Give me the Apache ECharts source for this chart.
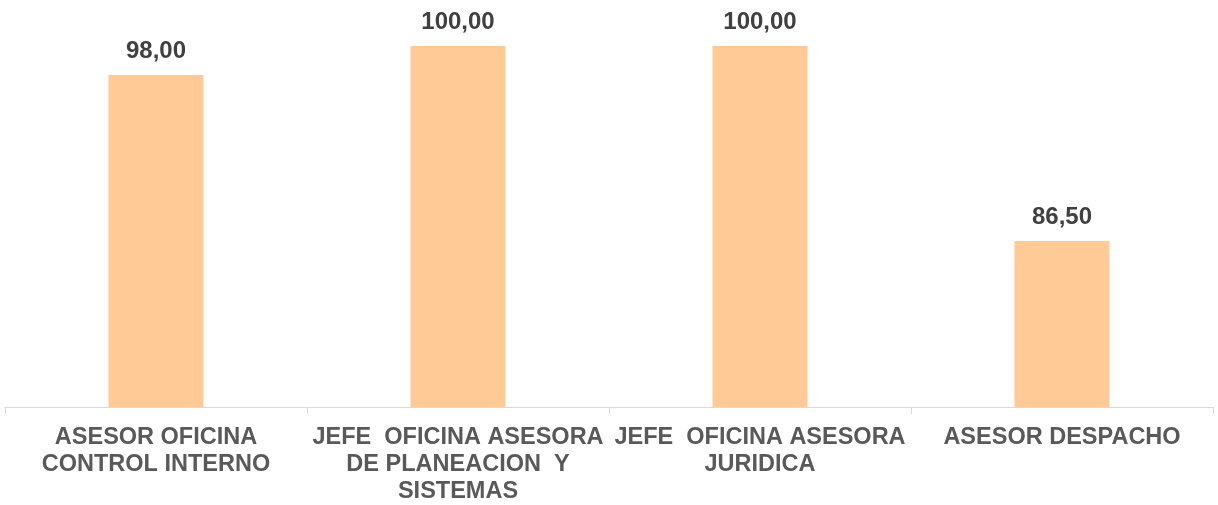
<!DOCTYPE html>
<html>
<head>
<meta charset="utf-8">
<script src="https://cdn.jsdelivr.net/npm/echarts@6/dist/echarts.min.js"></script>
<style>
html,body{margin:0;padding:0;background:#fff;}
#chart{width:1218px;height:505px;}
</style>
</head>
<body>
<div id="chart"></div>
<script>
var categories = [
  "ASESOR OFICINA\nCONTROL INTERNO",
  "JEFE  OFICINA ASESORA\nDE PLANEACION  Y\nSISTEMAS",
  "JEFE  OFICINA ASESORA\nJURIDICA",
  "ASESOR DESPACHO"
];
var values = [98.00, 100.00, 100.00, 86.50];

var chart = echarts.init(document.getElementById('chart'), null, {renderer: 'canvas'});
chart.setOption({
  animation: false,
  backgroundColor: '#ffffff',
  grid: {left: 5, right: 5, top: 46, bottom: 98, containLabel: false},
  xAxis: {
    type: 'category',
    data: categories,
    axisLine: {show: true, lineStyle: {color: '#d9d9d9', width: 1}},
    axisTick: {show: true, length: 7, lineStyle: {color: '#d9d9d9'}},
    axisLabel: {
      interval: 0,
      margin: 17,
      color: '#595959',
      fontFamily: '"Liberation Sans", Arial, sans-serif',
      fontWeight: 'bold',
      fontSize: 23.5,
      lineHeight: 27,
      align: 'center'
    }
  },
  yAxis: {
    type: 'value',
    min: 75,
    max: 100,
    show: false,
    splitLine: {show: false}
  },
  series: [{
    type: 'bar',
    data: values,
    barWidth: 95,
    itemStyle: {color: '#FFCA96'},
    label: {
      show: true,
      position: 'top',
      distance: 12,
      color: '#404040',
      fontFamily: '"Liberation Sans", Arial, sans-serif',
      fontWeight: 'bold',
      fontSize: 24,
      formatter: function (p) { return p.value.toFixed(2).replace('.', ','); }
    }
  }]
});
</script>
</body>
</html>
